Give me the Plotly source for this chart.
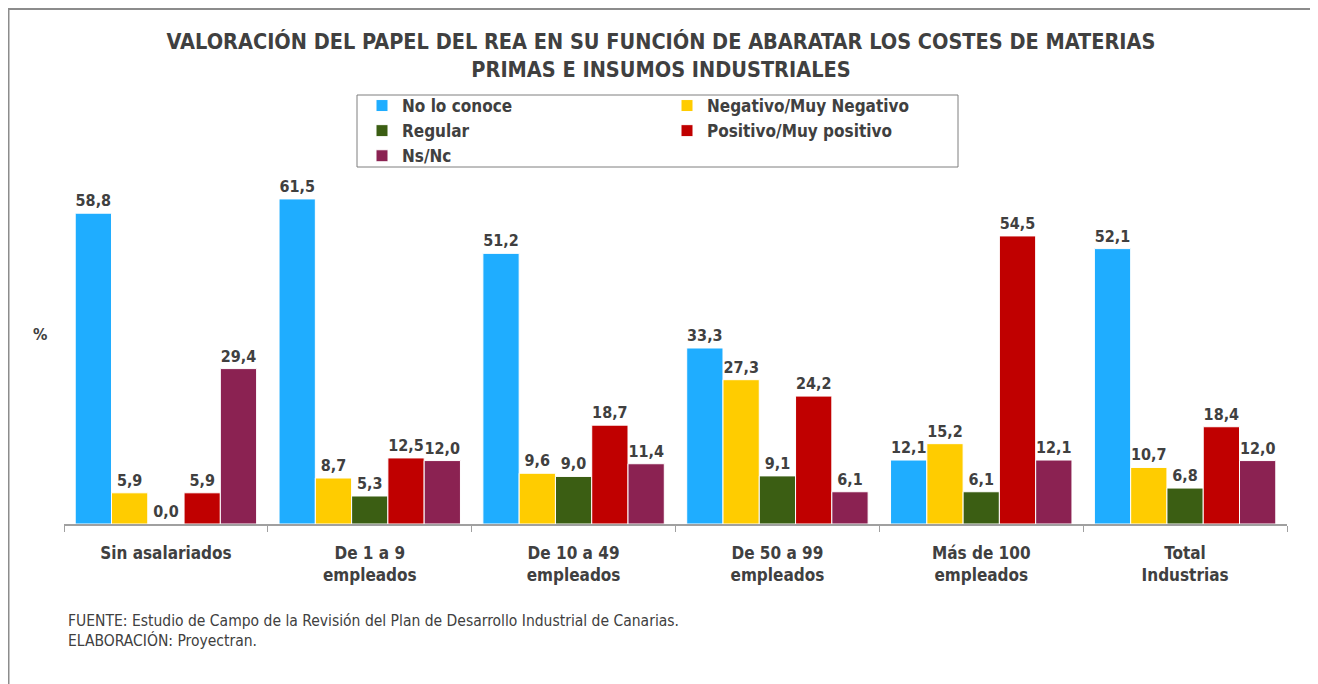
import plotly.graph_objects as go

categories = ["Sin asalariados", "De 1 a 9<br>empleados", "De 10 a 49<br>empleados",
              "De 50 a 99<br>empleados", "Más de 100<br>empleados", "Total<br>Industrias"]
series_names = ["No lo conoce", "Negativo/Muy Negativo", "Regular",
                "Positivo/Muy positivo", "Ns/Nc"]
no_lo_conoce = [58.8, 61.5, 51.2, 33.3, 12.1, 52.1]
negativo = [5.9, 8.7, 9.6, 27.3, 15.2, 10.7]
regular = [0.0, 5.3, 9.0, 9.1, 6.1, 6.8]
positivo = [5.9, 12.5, 18.7, 24.2, 54.5, 18.4]
ns_nc = [29.4, 12.0, 11.4, 6.1, 12.1, 12.0]

series_values = [no_lo_conoce, negativo, regular, positivo, ns_nc]
colors = ["#1FADFF", "#FFCC00", "#3B5E13", "#C00000", "#8B2252"]
legend_ids = ["legend", "legend2", "legend", "legend2", "legend"]

TEXT = "#404040"
FONT = "DejaVu Sans Condensed, DejaVu Sans, sans-serif"

# page -> paper helpers (page body has an 8px margin)
W, H = 1310, 676
PL, PR, PB, PH = 64, 1287, 524, 370


def px(x):
    return (x - PL) / (PR - PL)


def py(y):
    return (PB - y) / PH


fig = go.Figure()
for name, vals, col, lg in zip(series_names, series_values, colors, legend_ids):
    fig.add_trace(go.Bar(
        x=categories, y=vals, name=name,
        marker=dict(color=col, line=dict(color="white", width=1)),
        texttemplate="%{y:.1f}", textposition="outside",
        textfont=dict(family=FONT, size=16, color=TEXT, weight="bold"),
        cliponaxis=False, legend=lg,
    ))

legend_font = dict(family=FONT, size=17, color=TEXT, weight="bold")
fig.update_layout(
    width=W, height=H,
    margin=dict(l=PL - 8, r=W - (PR - 8), t=(PB - 8) - PH, b=H - (PB - 8)),
    paper_bgcolor="white", plot_bgcolor="white",
    separators=",.",
    barmode="group", bargap=0.11, bargroupgap=0,
    font=dict(family=FONT, color=TEXT),
    title=dict(
        text="VALORACIÓN DEL PAPEL DEL REA EN SU FUNCIÓN DE ABARATAR LOS COSTES DE MATERIAS<br>PRIMAS E INSUMOS INDUSTRIALES",
        x=(661 - 8) / W, xref="container", xanchor="center",
        y=1 - (49 - 8) / H, yref="container", yanchor="top",
        font=dict(family=FONT, size=21.5, color=TEXT, weight="bold"),
    ),
    legend=dict(x=px(362), y=py(88), xanchor="left", yanchor="top",
                bgcolor="rgba(0,0,0,0)", font=legend_font),
    legend2=dict(x=px(667), y=py(88), xanchor="left", yanchor="top",
                 bgcolor="rgba(0,0,0,0)", font=legend_font),
    xaxis=dict(
        type="category", tickson="boundaries", ticks="outside", ticklen=6,
        tickcolor="#A0A0A0", showline=True, linecolor="#A0A0A0", linewidth=1.5,
        tickfont=dict(family=FONT, size=17, color=TEXT, weight="bold"),
        ticklabelstandoff=13, showgrid=False,
    ),
    yaxis=dict(range=[0, 70], visible=False, showgrid=False, zeroline=False),
    shapes=[
        dict(type="rect", xref="paper", yref="paper",
             x0=px(357), x1=px(958), y0=py(167), y1=py(95),
             line=dict(color="#7F7F7F", width=1), fillcolor="rgba(0,0,0,0)", layer="below"),
        dict(type="rect", xref="paper", yref="paper",
             x0=px(8.5), x1=px(1312), y0=py(720), y1=py(9),
             line=dict(color="#8C8C8C", width=2), fillcolor="rgba(0,0,0,0)", layer="below"),
    ],
    annotations=[
        dict(text="%", xref="paper", yref="paper", x=px(40), y=py(334),
             showarrow=False, xanchor="center", yanchor="middle",
             font=dict(family=FONT, size=16, color=TEXT, weight="bold")),
        dict(text="FUENTE: Estudio de Campo de la Revisión del Plan de Desarrollo Industrial de Canarias.<br>ELABORACIÓN: Proyectran.",
             xref="paper", yref="paper", x=px(66), y=py(610),
             showarrow=False, xanchor="left", yanchor="top", align="left",
             font=dict(family=FONT, size=15.5, color=TEXT)),
    ],
)

fig.write_html("out.html")
